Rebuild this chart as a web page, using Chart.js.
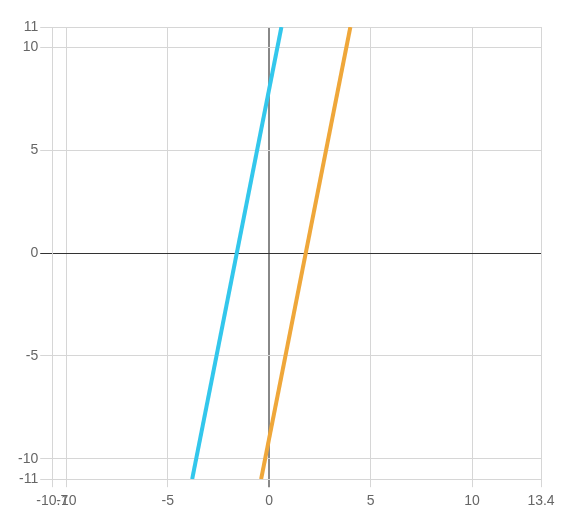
<!DOCTYPE html>
<html>
<head>
<meta charset="utf-8">
<script src="https://cdn.jsdelivr.net/npm/chart.js@4.4.0/dist/chart.umd.min.js"></script>
<style>
    body { margin: 0; background: #fff; }
    #wrap { width: 578px; height: 531px; }
</style>
</head>
<body>
<div id="wrap"><canvas id="chart" width="578" height="531"></canvas></div>
<script>
// line end points (y = 5x + 8 and y = 5x - 9)
const blueX = [-3.8, 0.6];
const blueY = [-11, 11];
const orangeX = [-0.4, 4];
const orangeY = [-11, 11];

const xTicks = [-10.7, -10, -5, 0, 5, 10, 13.4];
const yTicks = [-11, -10, -5, 0, 5, 10, 11];

function toPoints(xs, ys) {
    return xs.map((x, i) => ({ x: x, y: ys[i] }));
}

function fixedTicks(list) {
    return (axis) => { axis.ticks = list.map(v => ({ value: v })); };
}

Chart.defaults.font.family = 'Arial, "Liberation Sans", sans-serif';
Chart.defaults.font.size = 14;
Chart.defaults.color = '#666';

const ctx = document.getElementById('chart').getContext('2d');
new Chart(ctx, {
    type: 'line',
    data: {
        datasets: [{
            data: toPoints(blueX, blueY),
            borderColor: '#33c7ec',
            borderWidth: 4,
            pointRadius: 0,
            fill: false
        }, {
            data: toPoints(orangeX, orangeY),
            borderColor: '#efa73a',
            borderWidth: 4,
            pointRadius: 0,
            fill: false
        }]
    },
    options: {
        responsive: false,
        animation: false,
        layout: { padding: { top: 27, right: 37, bottom: 15, left: 16 } },
        plugins: { legend: { display: false }, tooltip: { enabled: false } },
        scales: {
            x: {
                type: 'linear',
                min: -10.7,
                max: 13.4,
                afterBuildTicks: fixedTicks(xTicks),
                grid: {
                    color: c => c.tick && c.tick.value === 0 ? '#888' : '#d6d6d6',
                    lineWidth: c => c.tick && c.tick.value === 0 ? 2 : 1,
                    tickLength: 8
                },
                border: { color: '#d6d6d6' },
                ticks: { maxRotation: 0, autoSkip: false, padding: 6 }
            },
            y: {
                type: 'linear',
                min: -11,
                max: 11,
                afterBuildTicks: fixedTicks(yTicks),
                grid: {
                    color: c => c.tick && c.tick.value === 0 ? '#333' : '#d6d6d6',
                    tickLength: 12
                },
                border: { color: '#d6d6d6' },
                ticks: { autoSkip: false, padding: 2 }
            }
        }
    }
});
</script>
</body>
</html>
